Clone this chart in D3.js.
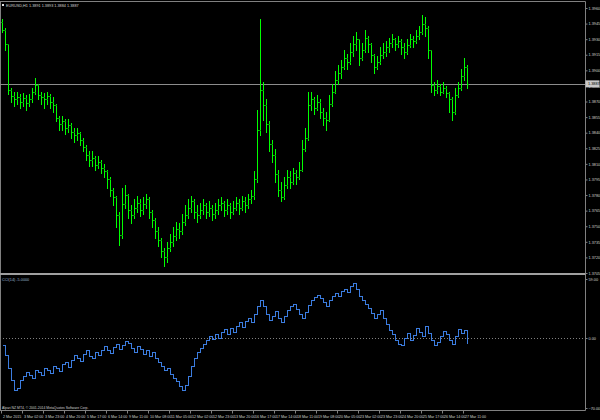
<!DOCTYPE html>
<html><head><meta charset="utf-8">
<script src="https://cdn.jsdelivr.net/npm/d3@7"></script>
<style>html,body{margin:0;padding:0;background:#000;}svg{display:block;}</style>
</head><body><svg id="c" width="600" height="420"></svg>
<script>
// ---- data ----
const symbolTitle = "EURUSD,H1  1.3891 1.3893 1.3884 1.3887";
const indicatorTitle = "CCI(14) -5.0000";
const copyright = "Alpari NZ MT4, \u00a9 2001-2014 MetaQuotes Software Corp.";
const firstOpen = 1.3947;
const closes = [1.3939,1.3925,1.3881,1.3875,1.3872,1.3874,1.3870,1.3873,1.3869,1.3872,1.3879,1.3886,1.3876,1.3874,1.3872,1.3875,1.3870,1.3867,1.3854,1.3848,
1.3851,1.3845,1.3847,1.3841,1.3838,1.3840,1.3833,1.3826,1.3819,1.3814,1.3816,1.3809,1.3812,1.3806,1.3803,1.3795,1.3785,1.3778,1.3761,1.3742,
1.3771,1.3780,1.3766,1.3761,1.3768,1.3772,1.3766,1.3771,1.3776,1.3764,1.3756,1.3745,1.3737,1.3726,1.3720,1.3729,1.3735,1.3741,1.3747,1.3745,
1.3754,1.3761,1.3768,1.3774,1.3764,1.3761,1.3766,1.3770,1.3764,1.3768,1.3762,1.3766,1.3770,1.3772,1.3766,1.3770,1.3764,1.3768,1.3772,1.3768,
1.3774,1.3770,1.3776,1.3779,1.3795,1.3843,1.3881,1.3867,1.3848,1.3829,1.3819,1.3800,1.3785,1.3778,1.3790,1.3797,1.3793,1.3801,1.3797,1.3804,
1.3824,1.3835,1.3867,1.3872,1.3864,1.3870,1.3860,1.3854,1.3852,1.3868,1.3879,1.3891,1.3897,1.3903,1.3912,1.3908,1.3918,1.3925,1.3930,1.3912,
1.3920,1.3931,1.3925,1.3915,1.3903,1.3908,1.3915,1.3918,1.3922,1.3926,1.3930,1.3925,1.3928,1.3922,1.3918,1.3924,1.3930,1.3928,1.3933,1.3937,
1.3945,1.3941,1.3920,1.3886,1.3881,1.3885,1.3879,1.3883,1.3878,1.3872,1.3860,1.3876,1.3883,1.3895,1.3903,1.3887];
const highs = [1.3949,1.3941,1.3925,1.3883,1.3879,1.3879,1.3877,1.3878,1.3876,1.3877,1.3883,1.3893,1.3887,1.3879,1.3878,1.3879,1.3877,1.3874,1.3868,1.3856,
1.3856,1.3853,1.3853,1.3849,1.3845,1.3845,1.3841,1.3835,1.3828,1.3822,1.3822,1.3818,1.3818,1.3814,1.3810,1.3804,1.3797,1.3787,1.3779,1.3764,
1.3787,1.3790,1.3781,1.3770,1.3776,1.3779,1.3776,1.3778,1.3781,1.3778,1.3766,1.3758,1.3749,1.3739,1.3729,1.3735,1.3743,1.3749,1.3754,1.3753,
1.3762,1.3770,1.3776,1.3779,1.3776,1.3770,1.3772,1.3776,1.3772,1.3774,1.3770,1.3772,1.3776,1.3778,1.3774,1.3776,1.3772,1.3774,1.3778,1.3776,
1.3779,1.3778,1.3781,1.3785,1.3803,1.3862,1.3949,1.3889,1.3872,1.3851,1.3833,1.3824,1.3804,1.3793,1.3797,1.3804,1.3803,1.3806,1.3804,1.3812,
1.3833,1.3845,1.3879,1.3879,1.3874,1.3876,1.3872,1.3864,1.3860,1.3876,1.3887,1.3899,1.3905,1.3910,1.3920,1.3916,1.3926,1.3933,1.3937,1.3930,
1.3926,1.3939,1.3933,1.3926,1.3916,1.3914,1.3922,1.3926,1.3928,1.3931,1.3935,1.3931,1.3933,1.3930,1.3926,1.3930,1.3935,1.3933,1.3939,1.3943,
1.3953,1.3951,1.3943,1.3920,1.3889,1.3891,1.3887,1.3889,1.3885,1.3879,1.3874,1.3883,1.3889,1.3901,1.3912,1.3905];
const lows = [1.3937,1.3920,1.3877,1.3870,1.3866,1.3868,1.3864,1.3866,1.3862,1.3866,1.3870,1.3877,1.3872,1.3868,1.3864,1.3868,1.3864,1.3860,1.3851,1.3843,
1.3843,1.3839,1.3841,1.3835,1.3831,1.3833,1.3828,1.3822,1.3814,1.3808,1.3808,1.3804,1.3806,1.3801,1.3797,1.3787,1.3779,1.3770,1.3749,1.3732,
1.3739,1.3768,1.3758,1.3753,1.3758,1.3764,1.3760,1.3762,1.3768,1.3758,1.3749,1.3739,1.3731,1.3720,1.3712,1.3716,1.3726,1.3731,1.3737,1.3739,
1.3743,1.3751,1.3758,1.3764,1.3758,1.3754,1.3758,1.3762,1.3758,1.3760,1.3756,1.3758,1.3762,1.3766,1.3760,1.3762,1.3758,1.3762,1.3766,1.3762,
1.3766,1.3764,1.3768,1.3772,1.3776,1.3793,1.3838,1.3852,1.3841,1.3822,1.3812,1.3793,1.3779,1.3774,1.3776,1.3787,1.3787,1.3791,1.3791,1.3795,
1.3803,1.3822,1.3833,1.3862,1.3858,1.3862,1.3854,1.3847,1.3843,1.3851,1.3866,1.3878,1.3887,1.3893,1.3901,1.3901,1.3906,1.3914,1.3920,1.3905,
1.3910,1.3918,1.3918,1.3908,1.3897,1.3901,1.3906,1.3912,1.3914,1.3918,1.3922,1.3920,1.3922,1.3916,1.3912,1.3916,1.3922,1.3922,1.3926,1.3930,
1.3935,1.3933,1.3912,1.3879,1.3876,1.3878,1.3876,1.3878,1.3874,1.3860,1.3852,1.3858,1.3874,1.3881,1.3891,1.3883];
const indicator = [-7,-17,-30,-42,-52,-50,-42,-38,-34,-37,-40,-32,-34,-37,-30,-32,-35,-28,-30,-33,
-26,-24,-29,-22,-17,-20,-23,-16,-12,-18,-20,-14,-17,-12,-8,-12,-15,-9,-6,-11,
-7,-3,-5,-10,-14,-8,-11,-16,-12,-18,-14,-20,-24,-28,-32,-30,-36,-40,-43,-48,
-52,-47,-38,-28,-20,-14,-10,-6,-2,2,-1,4,0,6,9,4,10,6,12,16,
11,17,20,16,24,32,38,32,24,18,22,27,20,16,22,28,32,34,29,24,
20,26,33,38,41,43,40,36,32,38,42,45,42,47,49,46,52,55,49,42,
38,34,30,25,20,24,28,20,14,8,4,-2,-6,-7,0,5,-2,3,10,6,
2,12,5,-2,-7,-4,2,7,4,-2,-6,2,9,5,8,-5];
const priceTicks = [1.3960,1.3945,1.3930,1.3915,1.3900,1.3885,1.3870,1.3855,1.3840,1.3825,1.3810,1.3795,1.3780,1.3765,1.3750,1.3735,1.3720,1.3705];
const indTicks = [59, -70];
const indLevel = 0;
const timeLabels = ["2 Mar 2015","3 Mar 02:00","3 Mar 23:00","4 Mar 20:00","5 Mar 17:00","6 Mar 14:00","9 Mar 11:00","10 Mar 08:00","11 Mar 05:00","12 Mar 02:00","12 Mar 23:00","13 Mar 20:00","16 Mar 17:00","17 Mar 14:00","18 Mar 11:00","19 Mar 08:00","20 Mar 05:00","23 Mar 02:00","23 Mar 23:00","24 Mar 20:00","25 Mar 17:00","26 Mar 14:00","27 Mar 11:00"];
const barsPerLabel = 7;

// ---- layout ----
const svg = d3.select("#c");
const axisX = 585.5;
const mainTop = 1.5, mainBot = 273, indBot = 410.5;
const grey = "#808080", txt = "#d0d0d0", fs = "3.8px", font = "Liberation Sans, Arial, sans-serif";

svg.append("rect").attr("width",600).attr("height",420).attr("fill","#000");

const n = closes.length;
const x = d3.scaleLinear().domain([0, n-1]).range([2, 467]);
const y = d3.scaleLinear().domain([priceTicks[priceTicks.length-1], priceTicks[0]]).range([273, 8]);
const yi = d3.scaleLinear().domain([indTicks[1], indTicks[0]]).range([408, 279]);

// frame lines
svg.append("line").attr("x1",0).attr("x2",axisX).attr("y1",mainTop).attr("y2",mainTop).attr("stroke",grey);
svg.append("line").attr("x1",0.5).attr("x2",0.5).attr("y1",mainTop).attr("y2",indBot).attr("stroke",grey);
svg.append("line").attr("x1",axisX).attr("x2",axisX).attr("y1",mainTop).attr("y2",indBot).attr("stroke",grey);
svg.append("rect").attr("x",0).attr("y",mainBot).attr("width",axisX).attr("height",2).attr("fill","#a0a0a0");
svg.append("line").attr("x1",0).attr("x2",axisX).attr("y1",indBot).attr("y2",indBot).attr("stroke",grey);

// price axis
const pa = svg.append("g").attr("transform",`translate(${axisX},0)`)
  .call(d3.axisRight(y).tickValues(priceTicks).tickSize(2).tickFormat(d3.format(".4f")));
pa.select(".domain").remove();
pa.selectAll("line").attr("stroke",grey);
pa.selectAll("text").attr("fill",txt).style("font",`${fs} ${font}`).attr("x",3);

// bars
const last = closes[n-1];
svg.append("line").attr("x1",0).attr("x2",axisX).attr("y1",Math.round(y(last))+0.5).attr("y2",Math.round(y(last))+0.5).attr("stroke","#8c8c8c");
const gB = svg.append("g").attr("shape-rendering","crispEdges");
closes.forEach((c,i)=>{
  const o = i===0 ? firstOpen : closes[i-1];
  const xx = Math.round(x(i))+0.5;
  gB.append("line").attr("x1",xx).attr("x2",xx).attr("y1",y(highs[i])).attr("y2",y(lows[i])+1).attr("stroke","#00ff00");
  gB.append("line").attr("x1",xx-1.5).attr("x2",xx).attr("y1",Math.round(y(o))+0.5).attr("y2",Math.round(y(o))+0.5).attr("stroke","#009a00");
  gB.append("line").attr("x1",xx).attr("x2",xx+1.5).attr("y1",Math.round(y(c))+0.5).attr("y2",Math.round(y(c))+0.5).attr("stroke","#00c800");
});

// current price label
const pb = svg.append("g").attr("transform",`translate(${axisX},${y(last)})`);
pb.append("rect").attr("x",0).attr("y",-3.5).attr("width",14).attr("height",7).attr("fill","#c8c8c8");
pb.append("text").attr("x",2.5).attr("y",1.3).attr("fill","#000").style("font",`${fs} ${font}`).text(d3.format(".4f")(last));

// title
svg.append("rect").attr("x",2).attr("y",4).attr("width",2).attr("height",2).attr("fill","#e0e0e0");
svg.append("text").attr("x",6).attr("y",6.5).attr("fill",txt).style("font",`${fs} ${font}`).text(symbolTitle);

// indicator panel
svg.append("line").attr("x1",0).attr("x2",axisX).attr("y1",Math.round(yi(indLevel))+0.5).attr("y2",Math.round(yi(indLevel))+0.5)
  .attr("stroke",grey).attr("stroke-dasharray","1,2");
svg.append("path").datum(indicator)
  .attr("d", d3.line().x((d,i)=>Math.round(x(i))+0.5).y(d=>Math.round(yi(d))+0.5).curve(d3.curveStepAfter))
  .attr("fill","none").attr("stroke","#3c7de0").attr("stroke-width",1).attr("shape-rendering","crispEdges");
svg.append("text").attr("x",2).attr("y",280.5).attr("fill","#9ab4d0").style("font",`${fs} ${font}`).text(indicatorTitle);
const ia = svg.append("g").attr("transform",`translate(${axisX},0)`)
  .call(d3.axisRight(yi).tickValues([indTicks[0], indLevel, indTicks[1]]).tickSize(2).tickFormat(d=> d3.format(".2f")(d)));
ia.select(".domain").remove();
ia.selectAll("line").attr("stroke",grey);
ia.selectAll("text").attr("fill",txt).style("font",`${fs} ${font}`).attr("x",3);
svg.append("text").attr("x",2).attr("y",409).attr("fill",txt).style("font",`3.4px ${font}`).text(copyright);

// time axis
const tl = svg.append("g");
timeLabels.forEach((t,k)=>{
  const xx = Math.round(x(k*barsPerLabel))-1+0.5;
  tl.append("line").attr("x1",xx).attr("x2",xx).attr("y1",indBot).attr("y2",indBot+3).attr("stroke",grey);
  tl.append("text").attr("x",xx+1.5).attr("y",417.5).attr("fill",txt).style("font",`3.6px ${font}`).text(t);
});
</script></body></html>
